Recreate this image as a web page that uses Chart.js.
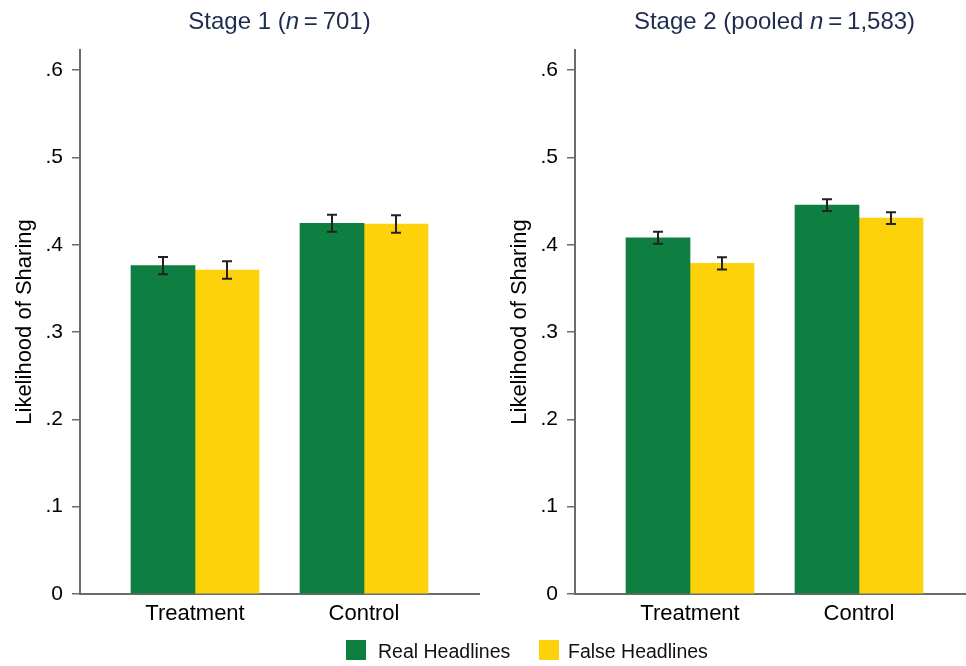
<!DOCTYPE html>
<html>
<head>
<meta charset="utf-8">
<script src="https://cdn.jsdelivr.net/npm/chart.js@4.4.1/dist/chart.umd.min.js"></script>
<style>
  body { margin: 0; width: 966px; height: 666px; overflow: hidden; background: #fff; position: relative;
         font-family: 'Liberation Sans Narrow', 'Arial Narrow', 'Liberation Sans', sans-serif; }
  .panel { position: absolute; top: 0; width: 495px; height: 666px; }
  .title { position: absolute; top: 7px; left: 80px; width: 399px; text-align: center;
           font-size: 24px; line-height: 28px; color: #1f2c4e; white-space: nowrap; }
  .legend { position: absolute; top: 640px; height: 20px; font-size: 19.5px; line-height: 20px; color: #111; }
  .legend span.box { position: absolute; top: 0; width: 20px; height: 20px; }
  .legend span.txt { position: absolute; top: 1px; white-space: nowrap; }
</style>
</head>
<body>
<div class="panel" style="left:0">
  <canvas id="stage1" width="495" height="666"></canvas>
  <div class="title">Stage 1 (<i>n</i>&#8201;=&#8201;701)</div>
</div>
<div class="panel" style="left:495px">
  <canvas id="stage2" width="495" height="666"></canvas>
  <div class="title">Stage 2 (pooled <i>n</i>&#8201;=&#8201;1,583)</div>
</div>
<div class="legend" style="left:0;width:966px">
  <span class="box" style="left:346px;background:#0f7f41"></span>
  <span class="txt" style="left:378px">Real Headlines</span>
  <span class="box" style="left:539px;background:#fdd20b"></span>
  <span class="txt" style="left:568px">False Headlines</span>
</div>
<script>
const categories = ['Treatment', 'Control'];
const legendLabels = ['Real Headlines', 'False Headlines'];

// Stage 1 (n = 701)
const stage1Real = [0.376, 0.4245];
const stage1RealErr = [0.0099, 0.0097];
const stage1False = [0.371, 0.4237];
const stage1FalseErr = [0.0100, 0.0100];

// Stage 2 (pooled n = 1,583)
const stage2Real = [0.408, 0.4454];
const stage2RealErr = [0.0068, 0.0067];
const stage2False = [0.3787, 0.4305];
const stage2FalseErr = [0.0070, 0.0067];

const yTicks = [0, 0.1, 0.2, 0.3, 0.4, 0.5, 0.6];
const yTickLabels = ['0', '.1', '.2', '.3', '.4', '.5', '.6'];

const green = '#0f7f41';
const yellow = '#fdd20b';
const axisGray = '#6b6b6b';

Chart.defaults.font.family = "'Liberation Sans Narrow', 'Arial Narrow', 'Liberation Sans', sans-serif";
Chart.defaults.color = '#000';

// draws the confidence whiskers on top of each bar
const errorBars = {
    id: 'errorBars',
    afterDatasetsDraw(chart) {
        const ctx = chart.ctx;
        const yScale = chart.scales.y;
        ctx.save();
        ctx.strokeStyle = '#222';
        ctx.lineWidth = 2;
        chart.data.datasets.forEach((ds, i) => {
            const meta = chart.getDatasetMeta(i);
            meta.data.forEach((bar, j) => {
                const v = ds.data[j].y;
                const e = ds.errors[j];
                const top = yScale.getPixelForValue(v + e);
                const bottom = yScale.getPixelForValue(v - e);
                ctx.beginPath();
                ctx.moveTo(bar.x, top);
                ctx.lineTo(bar.x, bottom);
                ctx.moveTo(bar.x - 5, top);
                ctx.lineTo(bar.x + 5, top);
                ctx.moveTo(bar.x - 5, bottom);
                ctx.lineTo(bar.x + 5, bottom);
                ctx.stroke();
            });
        });
        ctx.restore();
    }
};

function makeChart(id, real, realErr, fake, fakeErr) {
    const ctx = document.getElementById(id).getContext('2d');
    return new Chart(ctx, {
        type: 'bar',
        data: {
            datasets: [
                {
                    label: legendLabels[0],
                    data: real.map((v, i) => ({ x: i + 1, y: v })),
                    errors: realErr,
                    backgroundColor: green,
                    borderWidth: 0,
                    barThickness: 64,
                },
                {
                    label: legendLabels[1],
                    data: fake.map((v, i) => ({ x: i + 1, y: v })),
                    errors: fakeErr,
                    backgroundColor: yellow,
                    borderWidth: 0,
                    barThickness: 64,
                },
            ],
        },
        plugins: [errorBars],
        options: {
            responsive: false,
            animation: false,
            layout: { padding: { top: 50, right: 16, left: 0, bottom: 0 } },
            plugins: {
                legend: { display: false },
                tooltip: { enabled: false },
            },
            scales: {
                x: {
                    type: 'linear',
                    min: 0.3195,
                    max: 2.6805,
                    offset: false,
                    afterBuildTicks: (scale) => { scale.ticks = categories.map((c, i) => ({ value: i + 1 })); },
                    afterFit: (scale) => { scale.height = 72; },
                    ticks: {
                        callback: (value, index) => categories[index],
                        font: { size: 22 },
                        padding: 7,
                        maxRotation: 0,
                    },
                    grid: { display: false, drawTicks: false },
                    border: { color: axisGray, width: 2 },
                },
                y: {
                    min: 0,
                    max: 0.623,
                    afterBuildTicks: (scale) => { scale.ticks = yTicks.map((v) => ({ value: v })); },
                    afterFit: (scale) => { scale.width = 80; },
                    ticks: {
                        callback: (value, index) => yTickLabels[index],
                        font: { size: 21 },
                        padding: 9,
                    },
                    grid: { drawOnChartArea: false, drawTicks: true, tickLength: 8, color: axisGray, lineWidth: 1.5 },
                    border: { color: axisGray, width: 2 },
                    title: {
                        display: true,
                        text: 'Likelihood of Sharing',
                        font: { size: 22 },
                        padding: { top: 12, bottom: 0 },
                    },
                },
            },
        },
    });
}

makeChart('stage1', stage1Real, stage1RealErr, stage1False, stage1FalseErr);
makeChart('stage2', stage2Real, stage2RealErr, stage2False, stage2FalseErr);
</script>
</body>
</html>
